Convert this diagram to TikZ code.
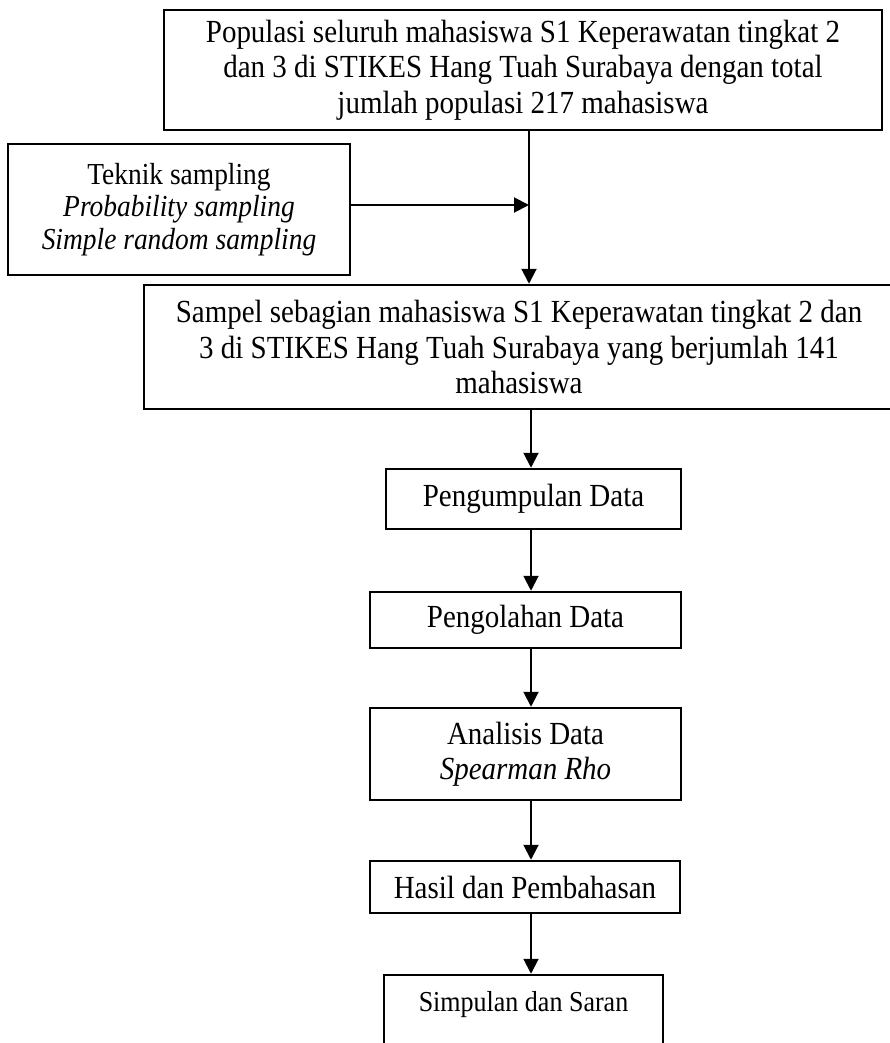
\documentclass[tikz,border=0pt]{standalone}
\usepackage{fontspec}
\setmainfont{Liberation Serif}[FakeStretch=0.9]
\usetikzlibrary{arrows.meta}
\begin{document}
\begin{tikzpicture}[x=1pt,y=-1pt,
  box/.style={draw, line width=2.5pt, inner sep=0pt, align=center, font=\fontsize{32.2}{35.5}\selectfont},
  conn/.style={line width=2pt, -{Triangle[length=15pt,width=15pt]}},
  plain/.style={line width=2pt}]
\useasboundingbox (0,0) rectangle (889,1043);
\node[box, minimum width=718pt, minimum height=120pt] (pop) at (523,70)
  {Populasi seluruh mahasiswa S1 Keperawatan tingkat 2\\dan 3 di STIKES Hang Tuah Surabaya dengan total\\jumlah populasi 217 mahasiswa};
\node[box, minimum width=342pt, minimum height=131pt, font=\fontsize{30.5}{32.5}\selectfont] (tek) at (179,209.5)
  {Teknik sampling\\\textit{Probability sampling}\\\textit{Simple random sampling}};
\node[box, minimum width=750pt, minimum height=124pt] (sam) at (519,347)
  {Sampel sebagian mahasiswa S1 Keperawatan tingkat 2 dan\\3 di STIKES Hang Tuah Surabaya yang berjumlah 141\\mahasiswa};
\node[box, minimum width=295pt, minimum height=60pt] (kum) at (533.5,499) {Pengumpulan Data};
\node[box, minimum width=311pt, minimum height=56pt] (olah) at (525.5,620) {Pengolahan Data};
\node[box, minimum width=311pt, minimum height=92pt] (ana) at (525.5,754) {Analisis Data\\\textit{Spearman Rho}};
\node[box, minimum width=310pt, minimum height=52pt] (has) at (525,887) {Hasil dan Pembahasan};
\node[box, minimum width=279pt, minimum height=85pt] (simp) at (523.5,1017.5) {};
\node[font=\fontsize{28.9}{32}\selectfont, inner sep=0pt] (simpt) at (523.5,1005) {Simpulan dan Saran};
\coordinate (joint) at (529,205);
\coordinate (spine) at (531,0);
\draw[plain] (pop.south -| joint) -- (joint);
\draw[conn] (joint) -- (sam.north -| joint);
\draw[conn] (tek.east |- joint) -- (joint);
\draw[conn] (sam.south -| spine) -- (kum.north -| spine);
\draw[conn] (kum.south -| spine) -- (olah.north -| spine);
\draw[conn] (olah.south -| spine) -- (ana.north -| spine);
\draw[conn] (ana.south -| spine) -- (has.north -| spine);
\draw[conn] (has.south -| spine) -- (simp.north -| spine);
\end{tikzpicture}
\end{document}
